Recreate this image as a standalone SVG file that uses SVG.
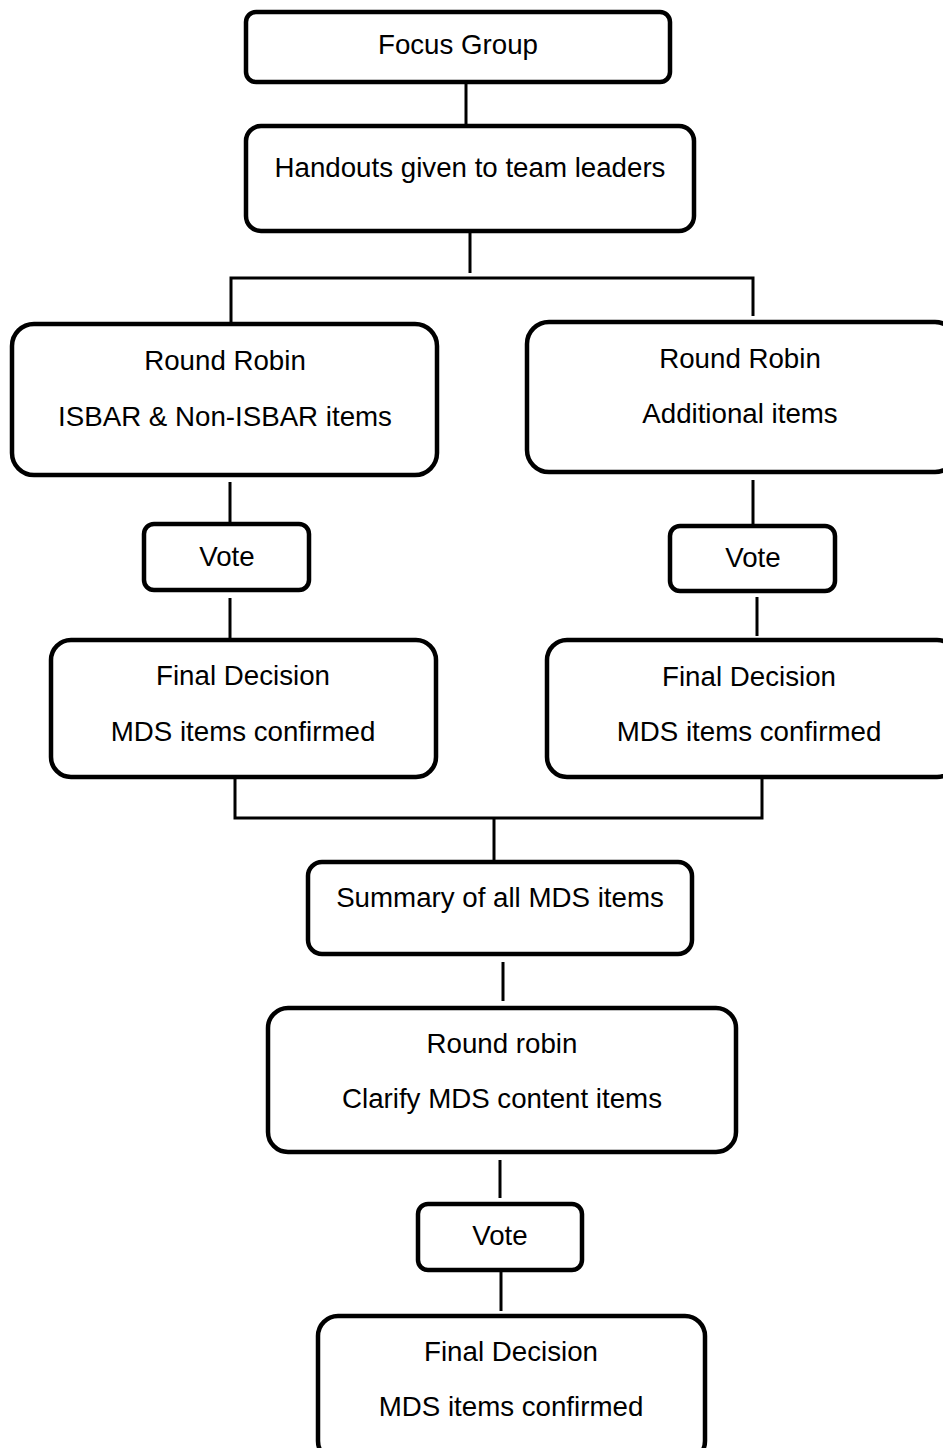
<svg xmlns="http://www.w3.org/2000/svg" width="943" height="1448" viewBox="0 0 943 1448">
<style>
.box{fill:#fff;stroke:#000;stroke-width:4.5}
.ln{fill:none;stroke:#000;stroke-width:3}
text{font-family:"Liberation Sans",Arial,sans-serif;font-size:27.7px;fill:#000;text-anchor:middle}
</style>
<rect width="943" height="1448" fill="#fff"/>
<g id="connectors">
<line class="ln" x1="466" y1="84" x2="466" y2="125"/>
<line class="ln" x1="470" y1="232" x2="470" y2="273"/>
<polyline class="ln" points="231,323 231,278 753,278 753,316"/>
<line class="ln" x1="230" y1="482" x2="230" y2="522"/>
<line class="ln" x1="230" y1="598" x2="230" y2="639"/>
<line class="ln" x1="753" y1="480" x2="753" y2="524"/>
<line class="ln" x1="757" y1="597" x2="757" y2="636"/>
<polyline class="ln" points="235,779 235,818 762,818 762,779"/>
<line class="ln" x1="494" y1="818" x2="494" y2="861"/>
<line class="ln" x1="503" y1="962" x2="503" y2="1001"/>
<line class="ln" x1="500" y1="1160" x2="500" y2="1198"/>
<line class="ln" x1="501" y1="1272" x2="501" y2="1311"/>
</g>
<g id="focus"><rect class="box" x="246" y="12" width="424" height="70" rx="10"/><text x="458" y="54">Focus Group</text></g>
<g id="handouts"><rect class="box" x="246" y="126" width="448" height="105" rx="15"/><text x="470" y="177">Handouts given to team leaders</text></g>
<g id="rr-left"><rect class="box" x="12" y="324" width="425" height="151" rx="22"/><text x="225" y="370">Round Robin</text><text x="225" y="426">ISBAR &amp; Non-ISBAR items</text></g>
<g id="rr-right"><rect class="box" x="527" y="322" width="430" height="150" rx="22"/><text x="740" y="368">Round Robin</text><text x="740" y="423">Additional items</text></g>
<g id="vote-left"><rect class="box" x="144" y="524" width="165" height="66" rx="10"/><text x="227" y="566">Vote</text></g>
<g id="vote-right"><rect class="box" x="670" y="526" width="165" height="65" rx="10"/><text x="753" y="567">Vote</text></g>
<g id="final-left"><rect class="box" x="51" y="640" width="385" height="137" rx="20"/><text x="243" y="685">Final Decision</text><text x="243" y="741">MDS items confirmed</text></g>
<g id="final-right"><rect class="box" x="547" y="640" width="410" height="137" rx="20"/><text x="749" y="686">Final Decision</text><text x="749" y="741">MDS items confirmed</text></g>
<g id="summary"><rect class="box" x="308" y="862" width="384" height="92" rx="14"/><text x="500" y="907">Summary of all MDS items</text></g>
<g id="rr-bottom"><rect class="box" x="268" y="1008" width="468" height="144" rx="20"/><text x="502" y="1053">Round robin</text><text x="502" y="1108">Clarify MDS content items</text></g>
<g id="vote-bottom"><rect class="box" x="418" y="1204" width="164" height="66" rx="10"/><text x="500" y="1245">Vote</text></g>
<g id="final-bottom"><rect class="box" x="318" y="1316" width="387" height="145" rx="20"/><text x="511" y="1361">Final Decision</text><text x="511" y="1416">MDS items confirmed</text></g>
</svg>
